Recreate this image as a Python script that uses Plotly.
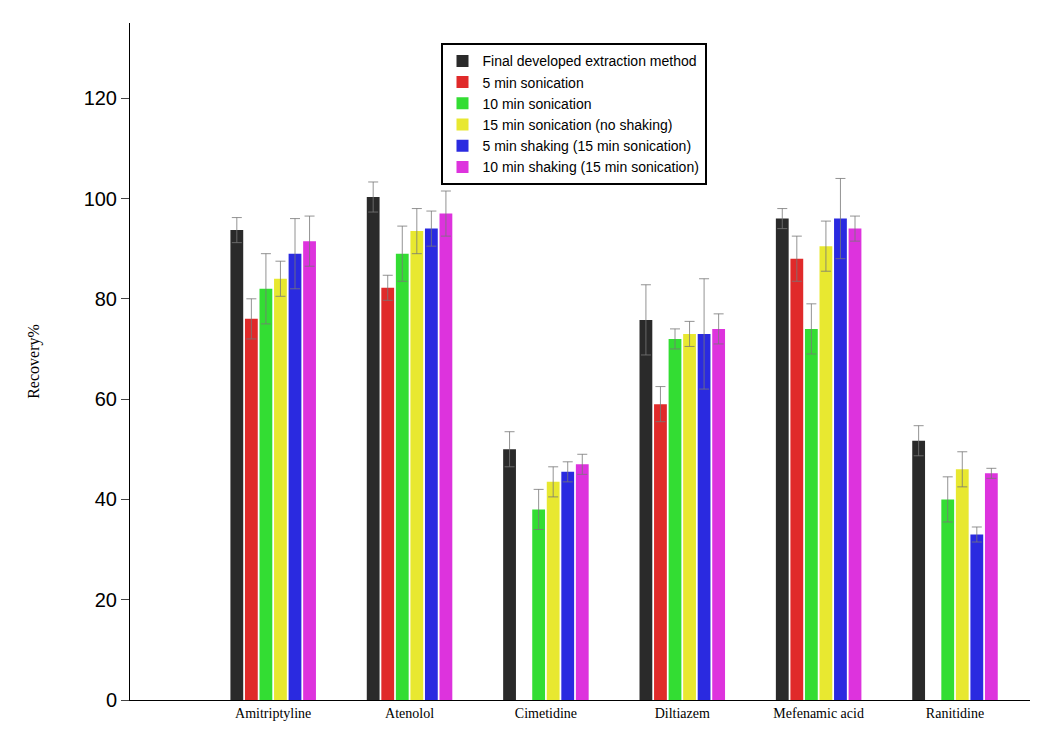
import plotly.graph_objects as go

drugs = ["Amitriptyline", "Atenolol", "Cimetidine", "Diltiazem", "Mefenamic acid", "Ranitidine"]
methods = ["Final developed extraction method", "5 min sonication", "10 min sonication",
           "15 min sonication (no shaking)", "5 min shaking (15 min sonication)",
           "10 min shaking (15 min sonication)"]
colors = ["#2a2a2a", "#e02a2a", "#33dd33", "#e8e830", "#2a2ae0", "#dd33dd"]

values = [
    [93.7, 100.3, 50.0, 75.8, 96.0, 51.7],
    [76.0, 82.2, None, 59.0, 88.0, None],
    [82.0, 89.0, 38.0, 72.0, 74.0, 40.0],
    [84.0, 93.5, 43.5, 73.0, 90.5, 46.0],
    [89.0, 94.0, 45.5, 73.0, 96.0, 33.0],
    [91.5, 97.0, 47.0, 74.0, 94.0, 45.2],
]
errors = [
    [2.5, 3.0, 3.5, 7.0, 2.0, 3.0],
    [4.0, 2.5, 0, 3.5, 4.5, 0],
    [7.0, 5.5, 4.0, 2.0, 5.0, 4.5],
    [3.5, 4.5, 3.0, 2.5, 5.0, 3.5],
    [7.0, 3.5, 2.0, 11.0, 8.0, 1.5],
    [5.0, 4.5, 2.0, 3.0, 2.5, 1.0],
]

fig = go.Figure()
for name, col, v, e in zip(methods, colors, values, errors):
    fig.add_trace(go.Bar(x=drugs, y=v, name=name,
                         marker={"color": col, "line": {"width": 0}},
                         error_y={"type": "data", "array": e, "color": "#777777",
                                  "thickness": 0.8, "width": 5}))

fig.update_layout(
    width=1053, height=731, barmode="group", bargap=0.36, bargroupgap=0.12,
    paper_bgcolor="white", plot_bgcolor="white",
    margin={"l": 122, "r": 31, "t": 15, "b": 39},
    showlegend=True,
    legend={"x": 0.345, "y": 0.97, "xanchor": "left", "yanchor": "top",
            "bordercolor": "black", "borderwidth": 2, "bgcolor": "white",
            "font": {"family": "Arial", "size": 14, "color": "black"},
            "tracegroupgap": 0, "itemwidth": 30},
    xaxis={"range": [-1.05, 5.55], "showline": True, "linecolor": "black",
           "linewidth": 1, "ticks": "",
           "tickfont": {"family": "Liberation Serif", "size": 14, "color": "black"}},
    yaxis={"range": [0, 135], "showline": True, "linecolor": "black", "linewidth": 1,
           "showgrid": False, "zeroline": False, "ticks": "outside", "ticklen": 8,
           "tickvals": [0, 20, 40, 60, 80, 100, 120],
           "tickfont": {"family": "Arial", "size": 20, "color": "black"},
           "title": {"text": "Recovery%", "standoff": 40,
                     "font": {"family": "Liberation Serif", "size": 16, "color": "black"}}},
)

fig.write_html("out.html")
